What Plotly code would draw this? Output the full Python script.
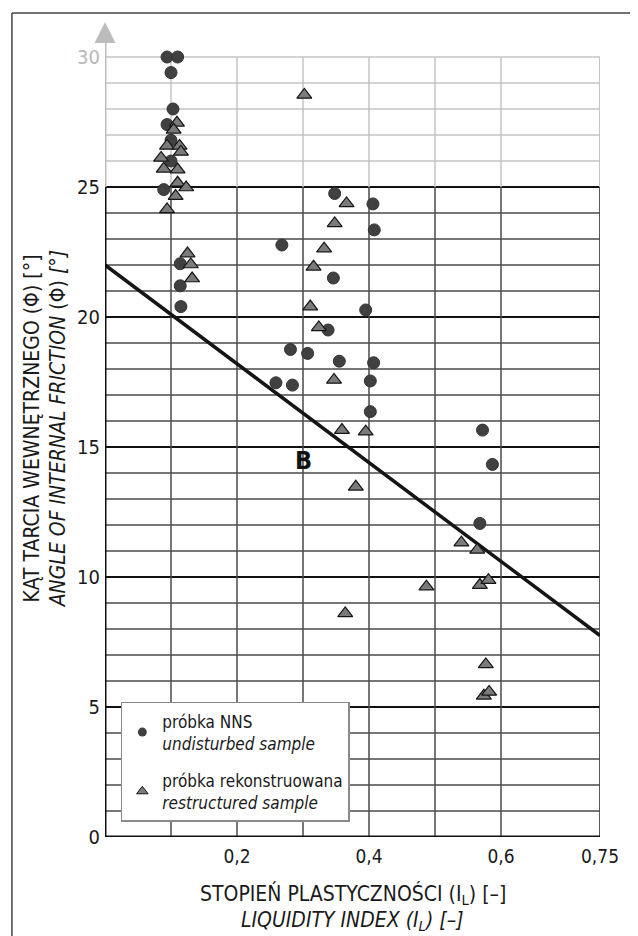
import plotly.graph_objects as go

# ---------------- data ----------------
nns_x = [0.094, 0.110, 0.100, 0.103, 0.094, 0.100, 0.100, 0.089, 0.114, 0.114, 0.115,
         0.268, 0.348, 0.406, 0.408, 0.346, 0.395, 0.338, 0.281, 0.307, 0.355, 0.407,
         0.259, 0.284, 0.402, 0.402, 0.572, 0.587, 0.568]
nns_y = [30.0, 30.0, 29.4, 28.0, 27.4, 26.8, 26.0, 24.9, 22.05, 21.2, 20.4,
         22.77, 24.75, 24.35, 23.35, 21.5, 20.27, 19.5, 18.75, 18.6, 18.3, 18.24,
         17.47, 17.38, 17.54, 16.36, 15.65, 14.33, 12.06]

rec_x = [0.302, 0.109, 0.104, 0.094, 0.113, 0.115, 0.085, 0.089, 0.110, 0.110, 0.123,
         0.107, 0.094, 0.125, 0.130, 0.132,
         0.366, 0.348, 0.332, 0.316, 0.311, 0.324, 0.347, 0.359, 0.395,
         0.380, 0.364,
         0.540, 0.564, 0.487, 0.568, 0.581, 0.577, 0.574, 0.582]
rec_y = [28.54, 27.47, 27.2, 26.58, 26.58, 26.35, 26.12, 25.7, 25.67, 25.16, 24.98,
         24.65, 24.14, 22.44, 22.02, 21.48,
         24.37, 23.6, 22.63, 21.93, 20.4, 19.6, 17.58, 15.65, 15.59,
         13.47, 8.6,
         11.32, 11.04, 9.63, 9.69, 9.88, 6.64, 5.43, 5.58]

trend_x = [0.0, 0.75]
trend_y = [22.0, 7.75]

y_ticks = [0, 5, 10, 15, 20, 25, 30]
y_tick_labels = ["0", "5", "10", "15", "20", "25", "<span style='color:#b8b8b8'>30</span>"]
x_ticks = [0.2, 0.4, 0.6, 0.75]
x_tick_labels = ["0,2", "0,4", "0,6", "0,75"]

FONT = "Liberation Sans Narrow, DejaVu Sans Condensed, Roboto Condensed, Liberation Sans, sans-serif"
MINOR = "#4a4a4a"
LIGHT = "#c4c4c4"

fig = go.Figure()

# ---------------- grid (shapes) ----------------
shapes = []
for v in range(1, 31):
    if v <= 25:
        col = "#111111" if v % 5 == 0 else MINOR
        w = 2.2 if v % 5 == 0 else 1.5
    else:
        col = LIGHT
        w = 1.5
    shapes.append(dict(type="line", xref="x", yref="y", x0=0, x1=0.75, y0=v, y1=v,
                       line=dict(color=col, width=w), layer="below"))
for i in range(1, 7):
    xv = i / 10
    shapes.append(dict(type="line", xref="x", yref="y", x0=xv, x1=xv, y0=0, y1=25,
                       line=dict(color=MINOR, width=1.5), layer="below"))
    shapes.append(dict(type="line", xref="x", yref="y", x0=xv, x1=xv, y0=25, y1=30,
                       line=dict(color=LIGHT, width=1.5), layer="below"))
# right border
shapes.append(dict(type="line", xref="x", yref="y", x0=0.75, x1=0.75, y0=0, y1=25,
                   line=dict(color=MINOR, width=1.8), layer="below"))
shapes.append(dict(type="line", xref="x", yref="y", x0=0.75, x1=0.75, y0=25, y1=30,
                   line=dict(color=LIGHT, width=2), layer="below"))
# y axis
shapes.append(dict(type="line", xref="x", yref="y", x0=0, x1=0, y0=0, y1=25,
                   line=dict(color="#111111", width=3)))
shapes.append(dict(type="line", xref="x", yref="y", x0=0, x1=0, y0=25, y1=30.9,
                   line=dict(color="#bdbdbd", width=3)))
# x axis
shapes.append(dict(type="line", xref="x", yref="y", x0=0, x1=0.77, y0=0, y1=0,
                   line=dict(color="#111111", width=3)))
# page frame (top & left)
shapes.append(dict(type="line", xref="paper", yref="paper", x0=-0.188, x1=1.1,
                   y0=1.0223, y1=1.0223, line=dict(color="#444444", width=1.5)))
shapes.append(dict(type="line", xref="paper", yref="paper", x0=-0.188, x1=-0.188,
                   y0=1.0223, y1=-0.15, line=dict(color="#444444", width=1.5)))

# ---------------- traces ----------------
fig.add_trace(go.Scatter(x=trend_x, y=trend_y, mode="lines",
                         line=dict(color="#151515", width=3.5), showlegend=False,
                         hoverinfo="skip"))
fig.add_trace(go.Scatter(x=nns_x, y=nns_y, mode="markers", showlegend=False,
                         marker=dict(symbol="circle", size=12, color="#404040",
                                     line=dict(color="#333333", width=1))))
fig.add_trace(go.Scatter(x=rec_x, y=rec_y, mode="markers", showlegend=False,
                         marker=dict(symbol="triangle-up", size=13, color="#7b7b7b",
                                     line=dict(color="#151515", width=1.2))))
# legend entries
fig.add_trace(go.Scatter(x=[None], y=[None], mode="markers", legendgroup="a",
                         name="próbka NNS<br><i>undisturbed sample</i>",
                         marker=dict(symbol="circle", size=9, color="#404040")))
fig.add_trace(go.Scatter(x=[None], y=[None], mode="markers", legendgroup="b",
                         name="próbka rekonstruowana<br><i>restructured sample</i>",
                         marker=dict(symbol="triangle-up", size=10, color="#7b7b7b",
                                     line=dict(color="#151515", width=1))))

annotations = [
    # x arrow head
    dict(x=0.80, y=0, xref="x", yref="y", ax=0.76, ay=0, axref="x", ayref="y",
         showarrow=True, arrowhead=2, arrowsize=1.4, arrowwidth=3, arrowcolor="#111111", text=""),
    # y arrow head
    dict(x=0, y=31.35, xref="x", yref="y", ax=0, ay=30.6, axref="x", ayref="y",
         showarrow=True, arrowhead=2, arrowsize=1.4, arrowwidth=3, arrowcolor="#bdbdbd", text=""),
    # B label
    dict(x=0.300, y=14.5, xref="x", yref="y", text="<b>B</b>", showarrow=False,
         font=dict(family=FONT, size=25, color="#111111")),
    # axis titles
    dict(x=0.5, y=-0.071, xref="paper", yref="paper", yanchor="middle",
         text="STOPIEŃ PLASTYCZNOŚCI (I<sub>L</sub>) [–]", showarrow=False,
         font=dict(family=FONT, size=21, color="#1a1a1a")),
    dict(x=0.5, y=-0.104, xref="paper", yref="paper", yanchor="middle",
         text="<i>LIQUIDITY INDEX (I<sub>L</sub>) [–]</i>", showarrow=False,
         font=dict(family=FONT, size=21, color="#1a1a1a")),
    dict(x=-0.147, y=0.507, xref="paper", yref="paper", xanchor="center", yanchor="middle",
         text="KĄT TARCIA WEWNĘTRZNEGO (Φ) [°]", showarrow=False, textangle=-90,
         font=dict(family=FONT, size=21, color="#1a1a1a")),
    dict(x=-0.095, y=0.507, xref="paper", yref="paper", xanchor="center", yanchor="middle",
         text="<i>ANGLE OF INTERNAL FRICTION</i> (Φ) <i>[°]</i>", showarrow=False, textangle=-90,
         font=dict(family=FONT, size=21, color="#1a1a1a")),
]

# the page body adds an 8 px offset, margins compensate so the plot area
# lies at x 105..600 and y 31..837 in the window
fig.update_layout(
    width=638, height=936,
    margin=dict(l=97, r=46, t=23, b=107),
    paper_bgcolor="white", plot_bgcolor="white",
    shapes=shapes, annotations=annotations,
    font=dict(family=FONT, size=17, color="#1a1a1a"),
    xaxis=dict(range=[0, 0.75], showgrid=False, zeroline=False, showline=False,
               tickvals=x_ticks, ticktext=x_tick_labels, ticks="", ticklabelstandoff=6,
               tickfont=dict(family=FONT, size=19, color="#1a1a1a")),
    yaxis=dict(range=[0, 31], showgrid=False, zeroline=False, showline=False,
               tickvals=y_ticks, ticktext=y_tick_labels, ticks="", ticklabelstandoff=4,
               tickfont=dict(family=FONT, size=20, color="#1a1a1a")),
    legend=dict(x=0.032, y=0.1675, xanchor="left", yanchor="top",
                bgcolor="white", bordercolor="#8a8a8a", borderwidth=1.5,
                font=dict(family=FONT, size=17, color="#1a1a1a"),
                itemsizing="trace", tracegroupgap=12, itemwidth=30),
    showlegend=True,
)

fig.write_html("out.html")
